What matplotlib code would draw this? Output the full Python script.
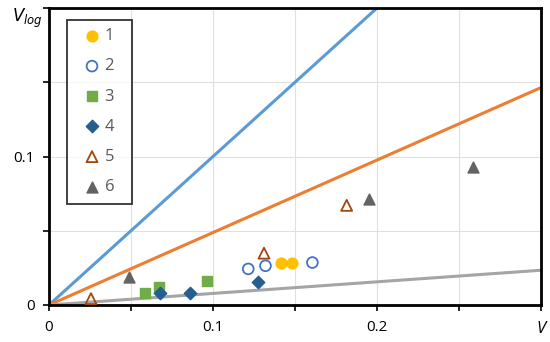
import matplotlib
matplotlib.use("Agg")
import matplotlib.pyplot as plt

plt.rcParams['font.family'] = ['Open Sans', 'DejaVu Sans']

# Data
s1_x = [0.1413, 0.148]
s1_y = [0.0286, 0.0286]
s2_x = [0.1215, 0.132, 0.1606]
s2_y = [0.0243, 0.0264, 0.0286]
s3_x = [0.0585, 0.0673, 0.0965]
s3_y = [0.0079, 0.0120, 0.0162]
s4_x = [0.0679, 0.0858, 0.1272]
s4_y = [0.0083, 0.0083, 0.0157]
s5_x = [0.0256, 0.1311, 0.1815]
s5_y = [0.0043, 0.0349, 0.0671]
s6_x = [0.049, 0.1949, 0.2585]
s6_y = [0.0191, 0.0714, 0.093]

line_x = [0.0, 0.3]
blue_slope = 1.0
orange_slope = 0.488
gray_slope = 0.078

legend_labels = ['1', '2', '3', '4', '5', '6']
x_ticks = [0, 0.05, 0.1, 0.15, 0.2, 0.25, 0.3]
x_ticklabels = ['0', '', '0.1', '', '0.2', '', '']
y_ticks = [0, 0.05, 0.1, 0.15, 0.2]
y_ticklabels = ['0', '', '0.1', '', '']

fig = plt.figure(figsize=(5.5, 3.42), dpi=100)
ax = fig.add_axes([49/550, 1-305/342, (541-49)/550, (305-8)/342])

ax.set_xlim(0, 0.3)
ax.set_ylim(0, 0.2)
ax.set_xticks(x_ticks)
ax.set_xticklabels(x_ticklabels)
ax.set_yticks(y_ticks)
ax.set_yticklabels(y_ticklabels)
ax.grid(True, color='#e0e0e0', linewidth=0.8, zorder=0)
ax.set_axisbelow(True)
for sp in ax.spines.values():
    sp.set_linewidth(2.0)
    sp.set_color('black')
ax.tick_params(axis='both', length=4, width=1.2, labelsize=11, colors='black', pad=6)
ax.tick_params(axis='x', pad=7)

ax.plot(line_x, [blue_slope * v for v in line_x], color='#5B9BD5', lw=2.2, zorder=2)
ax.plot(line_x, [orange_slope * v for v in line_x], color='#ED7D31', lw=2.2, zorder=2)
ax.plot(line_x, [gray_slope * v for v in line_x], color='#A5A5A5', lw=2.2, zorder=2)

h1 = ax.scatter(s1_x, s1_y, marker='o', s=60, color='#FFC000', zorder=3)
h2 = ax.scatter(s2_x, s2_y, marker='o', s=60, facecolors='none', edgecolors='#4472C4', linewidths=1.3, zorder=3)
h3 = ax.scatter(s3_x, s3_y, marker='s', s=62, color='#70AD47', zorder=3)
h4 = ax.scatter(s4_x, s4_y, marker='D', s=40, color='#255E91', zorder=3)
h5 = ax.scatter(s5_x, s5_y, marker='^', s=62, facecolors='none', edgecolors='#9E480E', linewidths=1.3, zorder=3, clip_on=False)
h6 = ax.scatter(s6_x, s6_y, marker='^', s=62, color='#636363', zorder=3)

leg = ax.legend([h1, h2, h3, h4, h5, h6], [l + '  ' for l in legend_labels], loc='upper left',
                bbox_to_anchor=((67-49)/492, (305-20)/297), frameon=True,
                fancybox=False, edgecolor='black', labelspacing=0.85,
                handletextpad=-0.2, borderpad=0.5, fontsize=12, handlelength=2.0,
                borderaxespad=0)
leg.get_frame().set_linewidth(1.3)
for t in leg.get_texts():
    t.set_color('#595959')

fig.text(541/550, 1-329/342, 'V', fontsize=12, style='italic', ha='center', va='center')
fig.text(27/550, 1-18/342, r'$V_{log}$', fontsize=12, ha='center', va='center',
         math_fontfamily='dejavusans')

fig.savefig('out.png', dpi=100)
